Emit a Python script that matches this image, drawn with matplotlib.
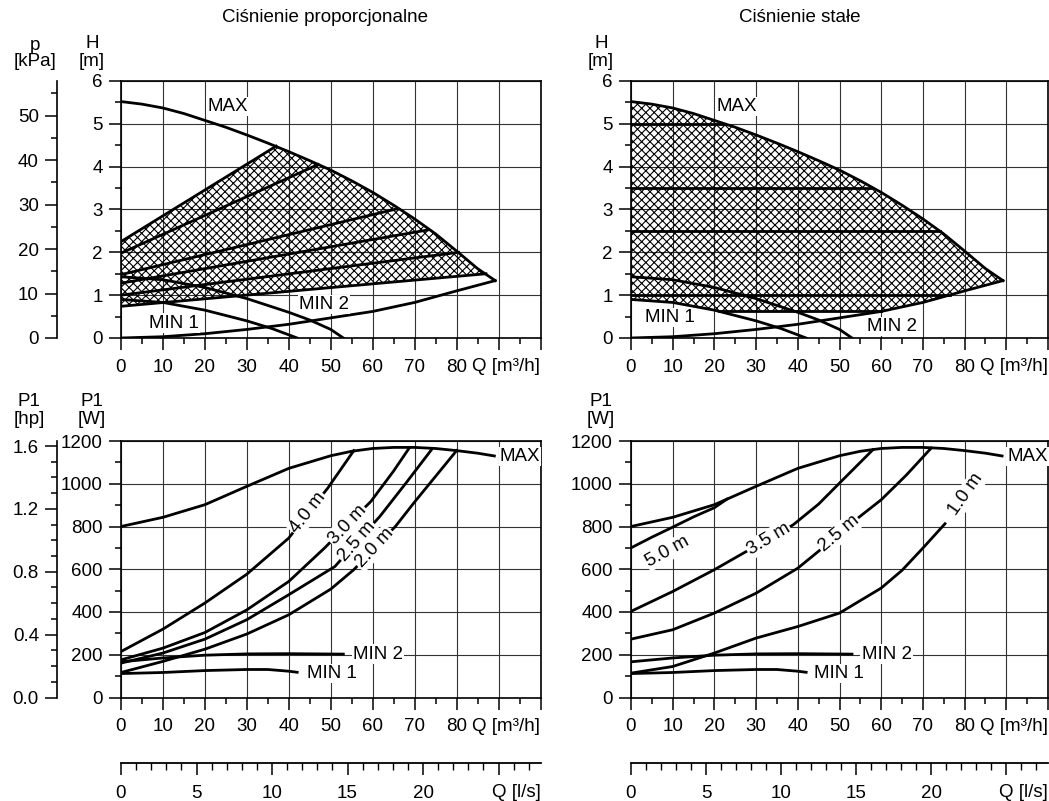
import numpy as np
import matplotlib.pyplot as plt
from matplotlib.patches import Polygon
from matplotlib.ticker import MultipleLocator

plt.rcParams['font.family'] = ['Liberation Sans', 'DejaVu Sans']
plt.rcParams['font.size'] = 13.5
plt.rcParams['hatch.linewidth'] = 0.8

# ---- H-Q curves (Q in m3/h, H in m) ----
max_q = [0, 5, 10, 15, 20, 25, 30, 35, 40, 45, 50, 55, 60, 65, 70, 75, 80, 85, 89.2]
max_h = [5.52, 5.46, 5.37, 5.24, 5.08, 4.92, 4.74, 4.55, 4.35, 4.14, 3.92, 3.67, 3.40, 3.10, 2.78, 2.43, 2.03, 1.62, 1.34]

sys_q = [0, 10, 20, 30, 40, 50, 60, 70, 80, 89.2]
sys_h = [0, 0.03, 0.10, 0.20, 0.32, 0.47, 0.62, 0.83, 1.10, 1.34]

min1_q = [0, 10, 20, 30, 36, 42]
min1_h = [0.90, 0.83, 0.65, 0.40, 0.22, 0.0]
min2_q = [0, 10, 20, 30, 40, 45, 50, 53]
min2_h = [1.43, 1.36, 1.18, 0.92, 0.60, 0.42, 0.20, 0.0]

# proportional pressure lines: H at Q=0, end Q, end H
prop_h0 = [2.25, 1.98, 1.48, 1.28, 1.00, 0.74]
prop_q1 = [37, 47, 66, 73, 80.5, 87]
prop_h1 = [4.48, 4.05, 3.02, 2.52, 2.00, 1.50]

# constant pressure lines: H, end Q
const_h = [5.0, 3.5, 2.5, 1.0]
const_q1 = [22.5, 57.5, 74, 76.5]
const_min_h = 0.62
const_min_q = [21, 60]

# ---- P1-Q curves (W) ----
pmax_q = [0, 10, 20, 30, 40, 50, 55, 60, 65, 70, 75, 80, 85, 89]
pmax_w = [800, 843, 902, 988, 1072, 1131, 1152, 1165, 1170, 1170, 1165, 1155, 1143, 1130]
pmin2_q = [0, 10, 20, 30, 40, 53]
pmin2_w = [167, 185, 198, 204, 205, 203]
pmin1_q = [0, 10, 20, 30, 35, 40, 42]
pmin1_w = [112, 117, 126, 131, 131, 123, 118]

# proportional pressure power curves
pp_names = ['4.0 m', '3.0 m', '2.5 m', '2.0 m']
pp_q = [[0, 10, 20, 30, 40, 44.6, 49.3, 55.5],
        [0, 10, 20, 30, 40, 48.5, 54, 59.6, 65, 68.7],
        [0, 10, 20, 30, 40, 51, 56.3, 61.7, 68, 74],
        [0, 10, 20, 30, 40, 50, 55.5, 60.4, 65.4, 70, 75, 80]]
pp_w = [[215, 320, 442, 577, 746, 863, 980, 1155],
        [176, 231, 304, 410, 543, 699, 808, 918, 1060, 1167],
        [161, 208, 273, 364, 481, 613, 730, 847, 1005, 1159],
        [117, 169, 226, 297, 387, 507, 598, 699, 800, 915, 1035, 1155]]
pp_label_q = [44.6, 54, 56.3, 60.4]
pp_label_w = [863, 808, 730, 699]
pp_label_rot = [52, 47, 49, 47]

# constant pressure power curves
cp_names = ['5.0 m', '3.5 m', '2.5 m', '1.0 m']
cp_q = [[0, 5, 10, 15, 20, 23],
        [0, 10, 20, 27, 33, 38.9, 45, 50, 58],
        [0, 10, 20, 30, 40, 44.9, 49.9, 54.9, 60, 66, 72],
        [0, 10, 20, 30, 40, 50, 60, 65, 70, 75.3]]
cp_w = [[700, 750, 797, 845, 888, 928],
        [403, 496, 598, 676, 741, 808, 905, 1003, 1159],
        [273, 317, 395, 488, 605, 683, 766, 847, 925, 1040, 1167],
        [114, 145, 208, 278, 332, 395, 512, 595, 699, 813]]
cp_label_q = [8.8, 33, 49.9, 80.4]
cp_label_w = [683, 741, 766, 949]
cp_label_rot = [29, 31, 40, 55]

W, H = 1049, 801
fig = plt.figure(figsize=(W / 100, H / 100), dpi=100)


def frame(x0, y_top, x1, y_bot):
    return [x0 / W, 1 - y_bot / H, (x1 - x0) / W, (y_bot - y_top) / H]


def ftext(x, y, s, **kw):
    fig.text(x / W, 1 - y / H, s, ha='center', va='center', **kw)


def setup_q(ax):
    ax.set_xlim(0, 100)
    ax.set_xticks(range(0, 101, 10))
    ax.set_xticklabels([str(v) if v <= 80 else '' for v in range(0, 101, 10)])
    ax.xaxis.set_minor_locator(MultipleLocator(5))
    ax.tick_params(axis='x', which='major', length=8.5, width=1.1, pad=6.5)
    ax.tick_params(axis='x', which='minor', length=4.5, width=1.1)
    ax.tick_params(axis='y', which='major', length=9, width=1.1, pad=4)
    ax.tick_params(axis='y', which='minor', length=4.5, width=1.1)
    ax.grid(True, which='major', color='#333333', lw=0.8)
    ax.set_axisbelow(True)
    for s in ax.spines.values():
        s.set_linewidth(1.2)
    ax.annotate('Q [m³/h]', xy=(1, 0), xycoords='axes fraction', xytext=(0, -14.5),
                textcoords='offset points', ha='right', va='top')


def side_axis(rect, top, major, minor, fmt):
    a = fig.add_axes(rect)
    a.set_ylim(0, top)
    a.yaxis.set_major_locator(MultipleLocator(major))
    a.yaxis.set_minor_locator(MultipleLocator(minor))
    a.yaxis.set_major_formatter(fmt)
    for k in ['top', 'right', 'bottom']:
        a.spines[k].set_visible(False)
    a.spines['left'].set_linewidth(1.2)
    a.set_xticks([])
    a.patch.set_alpha(0)
    a.tick_params(axis='y', which='major', length=9, width=1.1, pad=4)
    a.tick_params(axis='y', which='minor', length=4.5, width=1.1)
    return a


def ls_axis(x0, x1):
    a = fig.add_axes(frame(x0, 762, x1, 763))
    a.set_xlim(0, 100 / 3.6)
    a.set_xticks(range(0, 26, 5))
    a.set_xticklabels(['0', '5', '10', '15', '20', ''])
    a.xaxis.set_minor_locator(MultipleLocator(1))
    a.set_yticks([])
    for k in ['top', 'right', 'left']:
        a.spines[k].set_visible(False)
    a.spines['bottom'].set_linewidth(1.3)
    a.tick_params(axis='x', which='major', length=8.5, width=1.1, pad=7)
    a.tick_params(axis='x', which='minor', length=5, width=1.0)
    a.annotate('Q [l/s]', xy=(1, 0), xycoords='axes fraction', xytext=(0, -15),
               textcoords='offset points', ha='right', va='top')


lbl = dict(bbox=dict(facecolor='white', edgecolor='none', pad=0.8), zorder=5)
lw = 2.0
hatch = 'xxxx'

# ---------- top-left: proportional pressure ----------
ax1 = fig.add_axes(frame(121, 81, 540.5, 338))
setup_q(ax1)
ax1.set_ylim(0, 6)
ax1.yaxis.set_major_locator(MultipleLocator(1))
ax1.yaxis.set_minor_locator(MultipleLocator(0.5))
mq, mh = np.array(max_q), np.array(max_h)
sel = (mq > prop_q1[0]) & (mq < prop_q1[-1])
poly = [(0, prop_h0[0]), (prop_q1[0], prop_h1[0])] + list(zip(mq[sel], mh[sel])) + \
       [(prop_q1[-1], prop_h1[-1]), (0, prop_h0[-1])]
ax1.add_patch(Polygon(poly, closed=True, fill=False, hatch=hatch, edgecolor='black', lw=0, zorder=1))
ax1.plot(max_q, max_h, color='black', lw=lw, zorder=3)
ax1.plot(sys_q, sys_h, color='black', lw=lw, zorder=3)
ax1.plot(min1_q, min1_h, color='black', lw=lw, zorder=3)
ax1.plot(min2_q, min2_h, color='black', lw=lw, zorder=3)
for h0, q1, h1 in zip(prop_h0, prop_q1, prop_h1):
    ax1.plot([0, q1], [h0, h1], color='black', lw=lw, zorder=3)
ax1.text(20.6, 5.4, 'MAX', ha='left', va='center', **lbl)
ax1.text(6.6, 0.35, 'MIN 1', ha='left', va='center', **lbl)
ax1.text(42.4, 0.78, 'MIN 2', ha='left', va='center', **lbl)

side_axis(frame(57, 81, 58, 338), 57.8, 10, 5, '{x:.0f}')

# ---------- top-right: constant pressure ----------
ax2 = fig.add_axes(frame(631, 81, 1048, 338))
setup_q(ax2)
ax2.set_ylim(0, 6)
ax2.yaxis.set_major_locator(MultipleLocator(1))
ax2.yaxis.set_minor_locator(MultipleLocator(0.5))
sq, sh = np.array(sys_q), np.array(sys_h)
m1q, m1h = np.array(min1_q), np.array(min1_h)
poly = list(zip(mq, mh)) + list(zip(sq[sq >= const_min_q[1]][::-1], sh[sq >= const_min_q[1]][::-1])) + \
       [(const_min_q[0], const_min_h)] + list(zip(m1q[m1q < const_min_q[0]][::-1], m1h[m1q < const_min_q[0]][::-1]))
ax2.add_patch(Polygon(poly, closed=True, fill=False, hatch=hatch, edgecolor='black', lw=0, zorder=1))
ax2.plot(max_q, max_h, color='black', lw=lw, zorder=3)
ax2.plot(sys_q, sys_h, color='black', lw=lw, zorder=3)
ax2.plot(min1_q, min1_h, color='black', lw=lw, zorder=3)
ax2.plot(min2_q, min2_h, color='black', lw=lw, zorder=3)
for h, q1 in zip(const_h, const_q1):
    ax2.plot([0, q1], [h, h], color='black', lw=lw, zorder=3)
ax2.plot(const_min_q, [const_min_h, const_min_h], color='black', lw=lw, zorder=3)
ax2.text(20.4, 5.4, 'MAX', ha='left', va='center', **lbl)
ax2.text(3.4, 0.47, 'MIN 1', ha='left', va='center', **lbl)
ax2.text(56.5, 0.27, 'MIN 2', ha='left', va='center', **lbl)

# ---------- bottom-left: power, proportional ----------
ax3 = fig.add_axes(frame(121, 441, 540.5, 697.5))
setup_q(ax3)
ax3.set_ylim(0, 1200)
ax3.yaxis.set_major_locator(MultipleLocator(200))
ax3.yaxis.set_minor_locator(MultipleLocator(100))
for q, w in [(pmax_q, pmax_w), (pmin2_q, pmin2_w), (pmin1_q, pmin1_w)]:
    ax3.plot(q, w, color='black', lw=lw, zorder=3)
for q, w, name, lq, lw_, rot in zip(pp_q, pp_w, pp_names, pp_label_q, pp_label_w, pp_label_rot):
    ax3.plot(q, w, color='black', lw=lw, zorder=3)
    ax3.text(lq, lw_, name, rotation=rot, ha='center', va='center', rotation_mode='anchor', **lbl)
ax3.text(90.3, 1128, 'MAX', ha='left', va='center', **lbl)
ax3.text(55.3, 203, 'MIN 2', ha='left', va='center', **lbl)
ax3.text(44.4, 112, 'MIN 1', ha='left', va='center', **lbl)

side_axis(frame(57, 441, 58, 697.5), 1.632, 0.4, 0.1, '{x:.1f}')

# ---------- bottom-right: power, constant ----------
ax4 = fig.add_axes(frame(631, 441, 1048, 697.5))
setup_q(ax4)
ax4.set_ylim(0, 1200)
ax4.yaxis.set_major_locator(MultipleLocator(200))
ax4.yaxis.set_minor_locator(MultipleLocator(100))
for q, w in [(pmax_q, pmax_w), (pmin2_q, pmin2_w), (pmin1_q, pmin1_w)]:
    ax4.plot(q, w, color='black', lw=lw, zorder=3)
for q, w, name, lq, lw_, rot in zip(cp_q, cp_w, cp_names, cp_label_q, cp_label_w, cp_label_rot):
    ax4.plot(q, w, color='black', lw=lw, zorder=3)
    ax4.text(lq, lw_, name, rotation=rot, ha='center', va='center', rotation_mode='anchor', **lbl)
ax4.text(90.3, 1128, 'MAX', ha='left', va='center', **lbl)
ax4.text(55.3, 203, 'MIN 2', ha='left', va='center', **lbl)
ax4.text(44.0, 112, 'MIN 1', ha='left', va='center', **lbl)

ls_axis(121, 540.5)
ls_axis(631, 1048)

# ---------- titles and unit labels ----------
ftext(325, 18, 'Ciśnienie proporcjonalne')
ftext(800, 18, 'Ciśnienie stałe')
ftext(35, 45, 'p')
ftext(35, 62, '[kPa]')
ftext(92, 44, 'H')
ftext(92, 61, '[m]')
ftext(601, 44, 'H')
ftext(601, 61, '[m]')
ftext(29, 402, 'P1')
ftext(29, 420, '[hp]')
ftext(92, 402, 'P1')
ftext(92, 420, '[W]')
ftext(601, 402, 'P1')
ftext(601, 420, '[W]')

fig.savefig('out.png', dpi=100)
